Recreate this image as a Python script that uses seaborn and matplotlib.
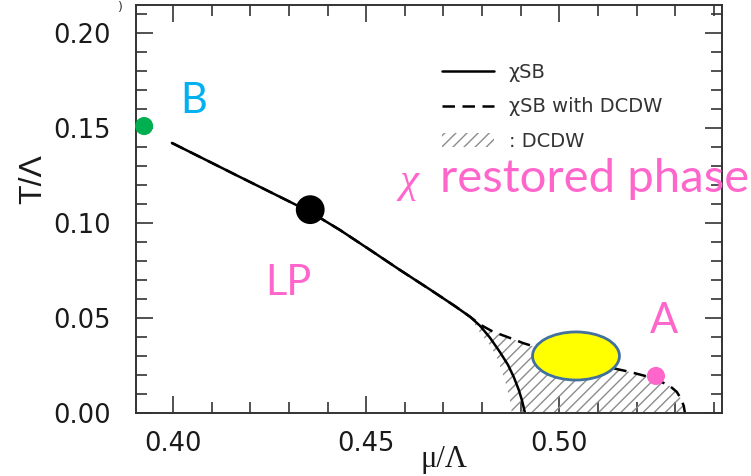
import numpy as np
import pandas as pd
import matplotlib
matplotlib.use('Agg')
import matplotlib.pyplot as plt
from matplotlib.patches import Ellipse, Patch
from matplotlib.lines import Line2D
from matplotlib.ticker import MultipleLocator
import seaborn as sns

# chiral symmetry breaking boundary (solid)
mu_sb = [0.3997, 0.4070, 0.4173, 0.4277, 0.4355, 0.4432, 0.4510, 0.4587,
         0.4665, 0.4730, 0.4769, 0.4795, 0.4820, 0.4846, 0.4867, 0.4882,
         0.4895, 0.4903, 0.4908, 0.4911]
T_sb = [0.1421, 0.1347, 0.1242, 0.1137, 0.1058, 0.0963, 0.0858, 0.0753,
        0.0650, 0.0562, 0.0506, 0.0458, 0.0397, 0.0321, 0.0253, 0.0189,
        0.0121, 0.0068, 0.0026, 0.0]

# boundary with DCDW (dashed), same as solid above mu ~ 0.477
mu_dw = [0.3997, 0.4070, 0.4173, 0.4277, 0.4355, 0.4432, 0.4510, 0.4587,
         0.4665, 0.4730, 0.4769, 0.4795, 0.4828, 0.4872, 0.4906, 0.4963,
         0.5014, 0.5079, 0.5136, 0.5183, 0.5222, 0.5260, 0.5286, 0.5304,
         0.5315, 0.5322, 0.5325]
T_dw = [0.1421, 0.1347, 0.1242, 0.1137, 0.1058, 0.0963, 0.0858, 0.0753,
        0.0650, 0.0562, 0.0506, 0.0465, 0.0428, 0.0395, 0.0368, 0.0332,
        0.0300, 0.0268, 0.0237, 0.0216, 0.0195, 0.0168, 0.0142, 0.0111,
        0.0074, 0.0037, 0.0]

# left edge of the hatched DCDW region
mu_dcdw_left = [0.4769, 0.4795, 0.4820, 0.4838, 0.4859, 0.4872, 0.4877]
T_dcdw_left = [0.0506, 0.0421, 0.0358, 0.0295, 0.0174, 0.0068, 0.0]

# marked points
pts = pd.DataFrame({'mu': [0.3925, 0.4355, 0.525],
                    'T': [0.151, 0.107, 0.0195],
                    'name': ['B', 'LP', 'A']})
ell_center = (0.5043, 0.030)
ell_size = (0.0225, 0.0253)

pink = '#ff66cc'
sns.set_theme(style='ticks')
plt.rcParams['font.family'] = ['DejaVu Sans']
plt.rcParams['hatch.linewidth'] = 1.0

fig = plt.figure(figsize=(7.51, 4.76), dpi=100)
ax = fig.add_axes([136/751, 1-413/476, 586/751, 408/476])

# hatched DCDW region: dashed curve on top, left edge, axis at bottom
i0 = mu_dw.index(0.4769)
poly_mu = list(mu_dw[i0:]) + list(mu_dcdw_left[::-1])
poly_T = list(T_dw[i0:]) + list(T_dcdw_left[::-1])
ax.fill(poly_mu, poly_T, facecolor='none', edgecolor='#8c8c8c', hatch='///', lw=0)

sns.lineplot(x=mu_sb, y=T_sb, color='black', lw=1.8, sort=False,
             estimator=None, ax=ax)
sns.lineplot(x=mu_dw, y=T_dw, color='black', lw=1.8, sort=False,
             estimator=None, ax=ax, linestyle=(0, (5, 3)))

ax.add_patch(Ellipse(ell_center, ell_size[0], ell_size[1], facecolor='#ffff00',
                     edgecolor='#41719c', lw=2, zorder=5))

sns.scatterplot(data=pts, x='mu', y='T', hue='name',
                palette={'B': '#00b050', 'LP': 'black', 'A': pink},
                size='name', sizes={'B': 170, 'LP': 430, 'A': 170},
                edgecolor='none', legend=False, ax=ax, zorder=6, clip_on=False)

ann = ['Lato', 'DejaVu Sans']
ax.text(0.4018, 0.158, 'B', color='#00b0f0', fontsize=30, family=ann)
ax.text(0.4238, 0.062, 'LP', color=pink, fontsize=30, family=ann)
ax.text(0.5234, 0.0421, 'A', color=pink, fontsize=30, family=ann)
ax.text(0.4587, 0.1163, 'χ', color=pink, fontsize=31,
        family=['Liberation Serif', 'DejaVu Serif'], style='italic')
ax.text(0.4691, 0.1163, 'restored phase', color=pink, fontsize=34,
        family=ann, clip_on=False)

ax.set_xlim(0.3904, 0.5421)
ax.set_ylim(0.0, 0.2147)
ax.xaxis.set_major_locator(MultipleLocator(0.05))
ax.xaxis.set_minor_locator(MultipleLocator(0.01))
ax.yaxis.set_major_locator(MultipleLocator(0.05))
ax.yaxis.set_minor_locator(MultipleLocator(0.01))
ax.xaxis.set_major_formatter(plt.FormatStrFormatter('%.2f'))
ax.yaxis.set_major_formatter(plt.FormatStrFormatter('%.2f'))
ax.tick_params(which='both', direction='in', top=True, right=True,
               color='#333333', width=1.2)
ax.tick_params(which='major', length=12, labelsize=18.5, labelcolor='#1a1a1a')
ax.tick_params(axis='x', which='major', pad=13)
ax.tick_params(axis='y', which='major', pad=18)
ax.tick_params(which='minor', length=8)
for s in ax.spines.values():
    s.set_color('#333333')
    s.set_linewidth(1.4)

ax.set_xlabel('μ/Λ', family=['Liberation Serif', 'DejaVu Serif'], fontsize=22,
              color='#1a1a1a')
ax.xaxis.set_label_coords((444-136)/586, -0.078)
ax.set_ylabel('T/Λ', family=['Liberation Sans', 'DejaVu Sans'], fontsize=23,
              color='#1a1a1a')
ax.yaxis.set_label_coords(-0.150, 0.574)

handles = [Line2D([], [], color='black', lw=1.8),
           Line2D([], [], color='black', lw=1.8, linestyle=(0, (5, 3))),
           Patch(facecolor='none', edgecolor='#8c8c8c', hatch='///', lw=0)]
ax.legend(handles, ['χSB', 'χSB with DCDW', ': DCDW'], loc='upper left',
          bbox_to_anchor=(0.522, 0.858), frameon=False, fontsize=14,
          handlelength=2.7, handletextpad=0.75, labelspacing=0.8,
          borderpad=0, borderaxespad=0, labelcolor='#333333')

fig.text(118/751, 1-1/476, ')', fontsize=9, va='top', color='#333333')

fig.savefig('out.png', dpi=100)
